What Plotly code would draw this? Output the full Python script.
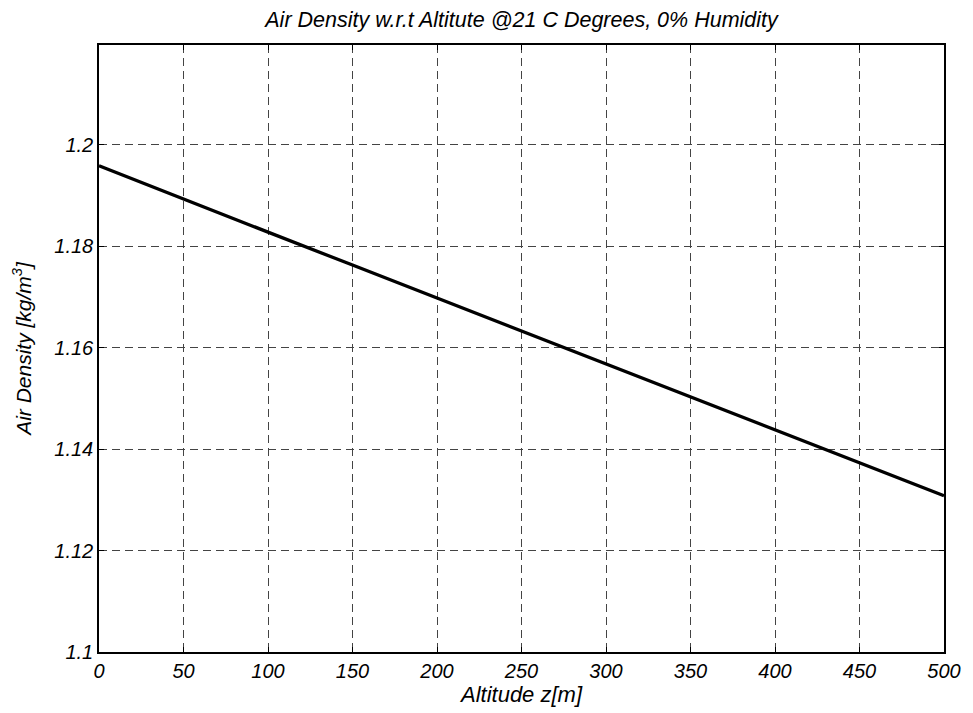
import plotly.graph_objects as go

altitude = [0, 50, 100, 150, 200, 250, 300, 350, 400, 450, 500]
density = [1.1959, 1.1893, 1.1828, 1.1763, 1.1698, 1.1633, 1.1568, 1.1503, 1.1438, 1.1373, 1.1308]
x_ticks = [0, 50, 100, 150, 200, 250, 300, 350, 400, 450, 500]
y_ticks = [1.1, 1.12, 1.14, 1.16, 1.18, 1.2]
y_tick_text = ["1.1", "1.12", "1.14", "1.16", "1.18", "1.2"]

font_family = "Liberation Sans, Arial, sans-serif"

fig = go.Figure()
fig.add_trace(go.Scatter(x=altitude, y=density, mode="lines",
                         line=dict(color="black", width=3.3), showlegend=False))

axis_common = dict(
    showline=True, linecolor="black", linewidth=1.5, mirror="ticks",
    ticks="inside", ticklen=5, tickcolor="black",
    showgrid=True, gridcolor="#444444", griddash="8px,5px", gridwidth=1,
    zeroline=False,
    tickfont=dict(family=font_family, size=20, color="black", style="italic"),
)

fig.update_layout(
    width=973, height=713,
    paper_bgcolor="white", plot_bgcolor="white",
    margin=dict(l=99, r=24, t=45, b=60),
    title=dict(text="Air Density w.r.t Altitute @21 C Degrees, 0% Humidity",
               x=0.536, xanchor="center", y=0.972, yanchor="middle",
               font=dict(family=font_family, size=21.5, color="black", style="italic")),
    xaxis=dict(range=[0, 500], tickvals=x_ticks, ticktext=[str(v) for v in x_ticks],
               title=dict(text="Altitude z[m]", standoff=4,
                          font=dict(family=font_family, size=22, color="black", style="italic")),
               **axis_common),
    yaxis=dict(range=[1.1, 1.2197], tickvals=y_ticks, ticktext=y_tick_text,
               title=dict(text="Air Density [kg/m<sup>3</sup>]", standoff=17,
                          font=dict(family=font_family, size=21, color="black", style="italic")),
               **axis_common),
)

fig.write_html("out.html")
